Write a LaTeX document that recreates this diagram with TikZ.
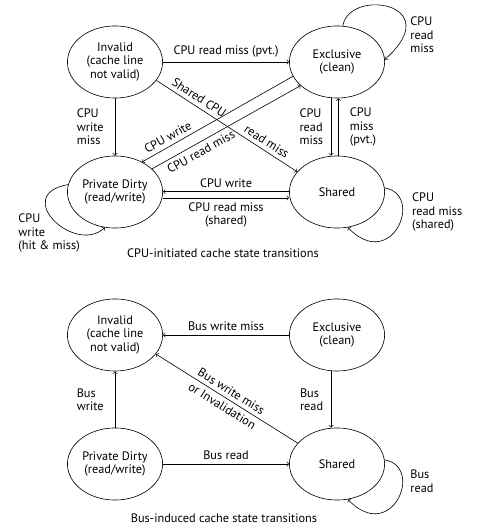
\documentclass[tikz,border=0pt]{standalone}
\usepackage{fontspec}
\setmainfont{PT Sans}
\usepackage{tikz}
\usetikzlibrary{shapes.geometric}

\begin{document}
\begin{tikzpicture}[>=to, line width=0.5pt,
            every node/.style={font=\fontsize{10}{11}\selectfont},
            state/.style={draw, ellipse, minimum width=2.72cm, minimum height=2.06cm, inner sep=0pt, align=center},
            lbl/.style={align=left}]
            \useasboundingbox (0,0) rectangle (14,-15.143);
            % CPU-initiated transitions
            \node[state] (inv1) at (3.286,-1.771) {Invalid\\(cache line\\not valid)};
            \node[state] (exc1) at (9.629,-1.771) {Exclusive\\(clean)};
            \node[state] (pd1) at (3.286,-5.486) {Private Dirty\\(read/write)};
            \node[state] (sh1) at (9.629,-5.486) {Shared};
            \draw[->] (inv1) -- (exc1) node[midway, above]{CPU read miss (pvt.)};
            \draw[->] (inv1) -- (pd1) node[midway, left=2mm, lbl]{CPU\\write\\miss};
            \draw[->] (inv1.336) -- (sh1.153) node[pos=0.27, sloped, above]{Shared CPU} node[pos=0.75, sloped, above]{read miss};
            \draw[<-] (pd1.48) -- (exc1.198) node[pos=0.2, sloped, above]{CPU write};
            \draw[->] (pd1.32) -- (exc1.213) node[pos=0.3, sloped, below]{CPU read miss};
            \draw[->] ([xshift=-0.17cm]exc1.south) -- ([xshift=-0.17cm]sh1.north) node[midway, left=1mm, lbl]{CPU\\read\\miss};
            \draw[->] ([xshift=0.04cm]sh1.north) -- ([xshift=0.04cm]exc1.south) node[midway, right=2mm, lbl]{CPU\\miss\\(pvt.)};
            \draw[->] ([yshift=0.01cm]sh1.west) -- ([yshift=0.01cm]pd1.east) node[midway, above]{CPU write};
            \draw[->] ([yshift=-0.17cm]pd1.east) -- ([yshift=-0.17cm]sh1.west) node[midway, below, align=center]{CPU read miss\\(shared)};
            \draw[->] (exc1.81) .. controls +(0.2,1.1) and +(1.8,1.6) .. (exc1.3);
            \draw[->] (pd1.171) .. controls +(-1.629,-0.286) and +(-0.857,-0.8) .. (pd1.254);
            \draw[->] (sh1.5) .. controls +(1.15,-0.2) and +(1.25,-1.3) .. (sh1.287);
            \node[lbl, anchor=west] (exclp) at (11.6,-1.0) {CPU\\read\\miss};
            \node[lbl, anchor=west] (pdlp) at (0.4,-6.657) {CPU\\write\\(hit \& miss)};
            \node[lbl, anchor=west] (shlp) at (11.65,-6.057) {CPU\\read miss\\(shared)};
            \node (cap1) at (6.371,-7.229) {CPU-initiated cache state transitions};
            % bus-induced transitions
            \node[state] (inv2) at (3.286,-9.571) {Invalid\\(cache line\\not valid)};
            \node[state] (exc2) at (9.629,-9.571) {Exclusive\\(clean)};
            \node[state] (pd2) at (3.286,-13.257) {Private Dirty\\(read/write)};
            \node[state] (sh2) at (9.629,-13.257) {Shared};
            \draw[->] (exc2) -- (inv2) node[midway, above]{Bus write miss};
            \draw[->] (pd2) -- (inv2) node[midway, left=2mm, lbl]{Bus\\write};
            \draw[->] ([xshift=-0.17cm]exc2.south) -- ([xshift=-0.17cm]sh2.north) node[midway, left=1mm, lbl]{Bus\\read};
            \draw[->] (pd2) -- (sh2) node[midway, above]{Bus read};
            \draw[<-] (inv2.335) -- (sh2.152) node[midway, sloped, align=center]{Bus write miss\\[3pt]or Invalidation};
            \draw[->] (sh2.5) .. controls +(1.15,-0.2) and +(1.25,-1.3) .. (sh2.287);
            \node[lbl, anchor=west] (buslp) at (11.6,-13.743) {Bus\\read};
            \node (cap2) at (6.4,-14.8) {Bus-induced cache state transitions};
        \end{tikzpicture}
\end{document}
